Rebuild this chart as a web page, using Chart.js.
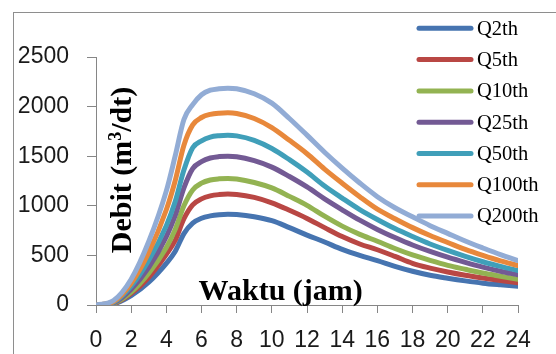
<!DOCTYPE html>
<html><head><meta charset="utf-8">
<script src="https://cdn.jsdelivr.net/npm/chart.js@4.4.1/dist/chart.umd.min.js"></script>
<style>html,body{margin:0;padding:0;background:#fff;}canvas{display:block;}</style>
</head><body>
<canvas id="c" width="556" height="354"></canvas>
<script>
// ---- data ----
const hours = [0,1,2,3,4,4.5,5,5.5,6,6.5,7,7.5,8,9,10,11,12,13,14,15,16,17,18,19,20,21,22,23,24];
const seriesNames = ['Q2th','Q5th','Q10th','Q25th','Q50th','Q100th','Q200th'];
const q2   = [0,12,95,230,420,540,720,825,875,898,910,915,912,890,850,780,705,635,560,500,448,390,340,300,270,243,220,203,188];
const q5   = [0,15,115,280,510,650,870,1010,1070,1100,1113,1118,1115,1085,1030,955,873,780,690,615,557,490,420,372,333,300,272,247,225];
const q10  = [0,18,130,320,580,760,1000,1160,1228,1260,1272,1276,1270,1235,1180,1095,1005,895,795,712,643,570,505,450,400,360,322,290,260];
const q25  = [0,22,160,380,690,900,1180,1375,1445,1482,1496,1500,1495,1455,1390,1295,1190,1070,960,855,762,680,605,540,482,430,382,340,305];
const q50  = [0,28,190,450,800,1040,1360,1585,1655,1693,1707,1712,1705,1660,1578,1465,1340,1200,1078,962,862,770,690,615,550,490,436,390,348];
const q100 = [0,35,220,530,960,1250,1610,1815,1890,1922,1934,1937,1930,1880,1788,1660,1525,1370,1228,1092,967,870,780,700,630,560,500,445,398];
const q200 = [0,45,260,640,1150,1500,1870,2020,2120,2165,2180,2185,2180,2130,2035,1880,1712,1540,1380,1230,1092,980,889,800,722,645,575,508,448];
const xTicks = [0,2,4,6,8,10,12,14,16,18,20,22,24];
const yTicks = [0,500,1000,1500,2000,2500];
const xTitle = 'Waktu (jam)';
const yTitleParts = ['Debit (m','3','/dt)'];
// ---------------------------------------

const seriesValues = [q2,q5,q10,q25,q50,q100,q200];
const colors = ['#4674B0','#B94744','#93B352','#735A94','#409FB9','#E8883B','#92ACD5'];

const datasets = seriesValues.map((vals,i)=>({
  label: seriesNames[i],
  data: hours.map((h,j)=>({x:h,y:vals[j]})),
  borderColor: colors[i],
  backgroundColor: colors[i],
  borderWidth: 5,
  pointRadius: 0,
  fill: false,
  cubicInterpolationMode: 'monotone',
  borderCapStyle: 'round',
  borderJoinStyle: 'round',
  order: seriesValues.length - i
}));

const AXIS = '#868686';
const decor = {
  id: 'decor',
  beforeDraw(chart){
    const ctx = chart.ctx;
    ctx.save();
    ctx.fillStyle = '#fff';
    ctx.fillRect(0,0,chart.width,chart.height);
    ctx.strokeStyle = '#8E8E8E';
    ctx.lineWidth = 1;
    ctx.strokeRect(13.5,12.5,800,800);
    ctx.restore();
  },
  afterDraw(chart){
    const ctx = chart.ctx;
    ctx.save();
    ctx.fillStyle = '#000';
    ctx.font = 'bold 30px "Liberation Serif"';
    ctx.textAlign = 'center';
    ctx.textBaseline = 'alphabetic';
    ctx.fillText(xTitle, 280.7, 299.5);
    ctx.translate(130.7, 170);
    ctx.rotate(-Math.PI/2);
    const fonts = ['bold 30px "Liberation Serif"','bold 18px "Liberation Serif"','bold 30px "Liberation Serif"'];
    const rises = [0,-10,0];
    let total = 0; const ws = [];
    yTitleParts.forEach((p,i)=>{ctx.font=fonts[i]; const w=ctx.measureText(p).width; ws.push(w); total+=w;});
    let x = -total/2;
    ctx.textAlign = 'left';
    yTitleParts.forEach((p,i)=>{ctx.font=fonts[i]; ctx.fillText(p,x,rises[i]); x+=ws[i];});
    ctx.restore();
    ctx.save();
    ctx.lineCap = 'round';
    ctx.lineWidth = 5;
    ctx.font = '20.5px "Liberation Serif"';
    ctx.textBaseline = 'middle';
    ctx.textAlign = 'left';
    seriesNames.forEach((n,i)=>{
      const y = 28.3 + i*31.3;
      ctx.strokeStyle = colors[i];
      ctx.beginPath(); ctx.moveTo(419,y); ctx.lineTo(471,y); ctx.stroke();
      ctx.fillStyle = '#000';
      ctx.fillText(n, 477, y+1);
    });
    ctx.restore();
  }
};

new Chart(document.getElementById('c'), {
  type: 'line',
  data: { datasets },
  options: {
    responsive: false,
    animation: false,
    devicePixelRatio: 1,
    layout: { padding: { top: 57, right: 38, bottom: 0, left: 0 } },
    plugins: { legend: { display: false }, tooltip: { enabled: false } },
    scales: {
      x: {
        type: 'linear', min: 0, max: 24,
        afterFit(s){ s.height = 49; },
        afterBuildTicks(s){ s.ticks = xTicks.map(v=>({value:v})); },
        grid: { drawOnChartArea: false, drawTicks: true, tickLength: 8, color: AXIS, lineWidth: 1 },
        border: { display: true, color: AXIS, width: 1 },
        ticks: { font: { family: 'Liberation Sans', size: 23 }, color: '#1a1a1a', padding: 14, maxRotation: 0, autoSkip: false,
                 callback: v => String(v) }
      },
      y: {
        min: 0, max: 2500,
        afterFit(s){ s.width = 96; },
        afterBuildTicks(s){ s.ticks = yTicks.map(v=>({value:v})); },
        grid: { drawOnChartArea: false, drawTicks: true, tickLength: 9, color: AXIS, lineWidth: 1 },
        border: { display: true, color: AXIS, width: 1 },
        ticks: { font: { family: 'Liberation Sans', size: 23 }, color: '#1a1a1a', padding: 18,
                 callback: v => String(v) }
      }
    }
  },
  plugins: [decor]
});
</script>
</body></html>
